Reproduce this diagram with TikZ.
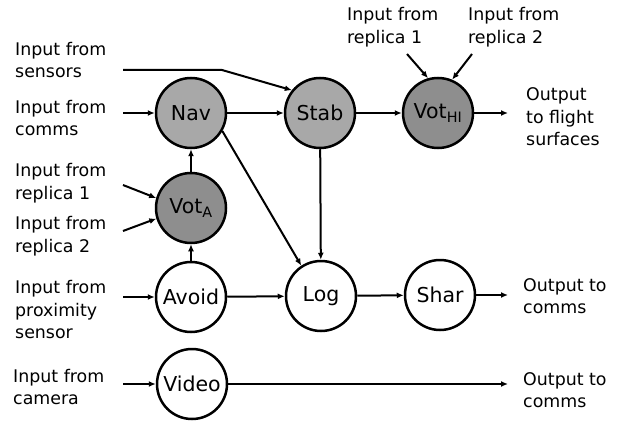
\documentclass[tikz,border=0pt]{standalone}
\usepackage{fontspec}
\setmainfont{DejaVu Sans}
\usetikzlibrary{arrows.meta}
\definecolor{lightg}{HTML}{A8A8A8}
\definecolor{darkg}{HTML}{8E8E8E}
\begin{document}
\begin{tikzpicture}[x=1pt,y=-1pt,
  proc/.style={circle, draw, line width=2.5pt, minimum size=70pt, inner sep=0pt, font=\fontsize{20.5}{24}\selectfont},
  procl/.style={proc, fill=lightg},
  procd/.style={proc, fill=darkg},
  lbl/.style={anchor=west, align=left, inner sep=0pt, font=\fontsize{17.4}{22.5}\selectfont},
  arr/.style={line width=2pt, -{Latex[length=7pt,width=6pt]}}]
\useasboundingbox (0,0) rectangle (620,422);
% nodes
\node[procl] (nav) at (191,113) {Nav};
\node[procl] (stab) at (320,113) {Stab};
\node[procd] (vothi) at (438,113) {Vot\textsubscript{HI}};
\node[procd] (vota) at (191,208) {Vot\textsubscript{A}};
\node[proc] (avoid) at (191,297) {Avoid};
\node[proc] (log) at (321,296) {Log};
\node[proc] (shar) at (440,295) {Shar};
\node[proc] (video) at (192,384) {Video};
% labels
\node[lbl] (tsens) at (15,60) {Input from\\sensors};
\node[lbl] (tcomms) at (15,118) {Input from\\comms};
\node[lbl] (trep1) at (15,183) {Input from\\replica 1};
\node[lbl] (trep2) at (15,236) {Input from\\replica 2};
\node[lbl] (tprox) at (15,310) {Input from\\proximity\\sensor};
\node[lbl] (tcam) at (13,387) {Input from\\camera};
\node[lbl] (thr1) at (347,27) {Input from\\replica 1};
\node[lbl] (thr2) at (468,27) {Input from\\replica 2};
\node[lbl] (tflight) at (526,117) {Output\\to flight\\surfaces};
\node[lbl] (tout1) at (523,296) {Output to\\comms};
\node[lbl] (tout2) at (523,390) {Output to\\comms};
% free ends
\coordinate (csens) at (123,70);
\coordinate (cbend) at (222,70);
\coordinate (ccomms) at (123,113);
\coordinate (crep1) at (123,185);
\coordinate (crep2) at (123,231);
\coordinate (cprox) at (123,297);
\coordinate (ccam) at (123,384);
\coordinate (chr1) at (407,54);
\coordinate (chr2) at (472,54);
\coordinate (cflight) at (508,113);
\coordinate (cout1) at (508,295);
\coordinate (cout2) at (508,384);
% connectors
\draw[arr] (csens) -- (cbend) -- (stab.141);
\draw[arr] (ccomms) -- (nav);
\draw[arr] (nav) -- (stab);
\draw[arr] (stab) -- (vothi);
\draw[arr] (vothi) -- (cflight);
\draw[arr] (chr1) -- (vothi.106);
\draw[arr] (chr2) -- (vothi.67);
\draw[arr] (crep1) -- (vota.164);
\draw[arr] (crep2) -- (vota.-163);
\draw[arr] (vota) -- (nav);
\draw[arr] (avoid) -- (vota);
\draw[arr] (cprox) -- (avoid);
\draw[arr] (avoid) -- (log);
\draw[arr] (nav.-30) -- (log.123);
\draw[arr] (stab) -- (log);
\draw[arr] (log) -- (shar);
\draw[arr] (shar) -- (cout1);
\draw[arr] (ccam) -- (video);
\draw[arr] (video) -- (cout2);
\end{tikzpicture}
\end{document}
